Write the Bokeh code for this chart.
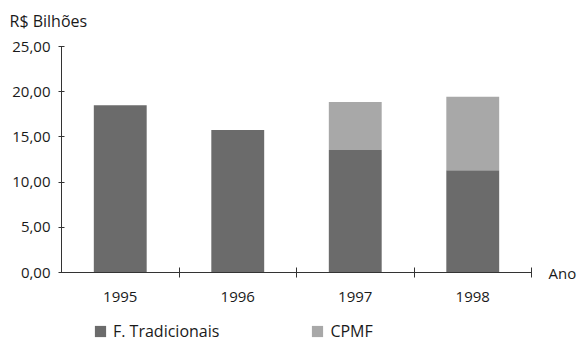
from bokeh.plotting import figure
from bokeh.models import (ColumnDataSource, FixedTicker, Label, Legend, LegendItem,
                          LinearAxis, Range1d)
from bokeh.embed import file_html
from bokeh.resources import INLINE

# Arrecadação por ano (R$ bilhões)
anos = ["1995", "1996", "1997", "1998"]
tradicionais = [18.5, 15.75, 13.55, 11.3]
cpmf = [0.0, 0.0, 5.3, 8.15]
y_ticks = [0, 5, 10, 15, 20, 25]
y_tick_labels = ["0,00", "5,00", "10,00", "15,00", "20,00", "25,00"]

FONT = "Open Sans"
TXT = "#1a1a1a"
ESCURO = "#6b6b6b"
CLARO = "#a8a8a8"
LINHA = "#333333"

W, H = 577, 344
# margens (px) em volta da área dos eixos
ML, MR, MT, MB = 61, 46, 46, 72
n = len(anos)
y_max = 25
px_x = (W - ML - MR) / n
px_y = (H - MT - MB) / y_max

x_pos = [i + 0.5 for i in range(n)]
topo = [t + c for t, c in zip(tradicionais, cpmf)]
src = ColumnDataSource(dict(x=x_pos, trad=tradicionais, cpmf=cpmf, topo=topo))

p = figure(width=W, height=H, output_backend="svg", toolbar_location=None,
           x_range=Range1d(-ML / px_x, n + MR / px_x),
           y_range=Range1d(-MB / px_y, y_max + MT / px_y),
           x_axis_location=None, y_axis_location=None,
           min_border=0, min_border_left=0, min_border_right=0,
           min_border_top=0, min_border_bottom=0)
p.outline_line_color = None
p.grid.visible = False
p.background_fill_color = "white"

r1 = p.vbar(x="x", width=0.45, bottom=0, top="trad", source=src,
            fill_color=ESCURO, line_color=None)
r2 = p.vbar(x="x", width=0.45, bottom="trad", top="topo", source=src,
            fill_color=CLARO, line_color=None)

# eixo y
ya = LinearAxis(fixed_location=0, bounds=(0, y_max),
                ticker=FixedTicker(ticks=y_ticks))
ya.major_label_overrides = {t: l for t, l in zip(y_ticks, y_tick_labels)}
ya.major_tick_in = 3
ya.major_tick_out = 3
ya.minor_tick_line_color = None
ya.major_label_standoff = 8
ya.major_label_text_font = FONT
ya.major_label_text_font_size = "15px"
ya.major_label_text_color = TXT
ya.axis_line_color = LINHA
ya.major_tick_line_color = LINHA
p.add_layout(ya, "left")

# eixo x: rótulos no centro das categorias, marcas nas divisões
xa = LinearAxis(fixed_location=0, bounds=(0, n),
                ticker=FixedTicker(ticks=x_pos, minor_ticks=list(range(1, n + 1))))
xa.major_label_overrides = {x: a for x, a in zip(x_pos, anos)}
xa.major_tick_in = 0
xa.major_tick_out = 0
xa.minor_tick_in = 5
xa.minor_tick_out = 5
xa.minor_tick_line_color = LINHA
xa.major_label_standoff = 14
xa.major_label_text_font = FONT
xa.major_label_text_font_size = "15px"
xa.major_label_text_color = TXT
xa.axis_line_color = LINHA
p.add_layout(xa, "below")

p.add_layout(Label(x=0, y=y_max, text="R$ Bilhões", x_offset=-52, y_offset=26,
                   text_baseline="middle", text_font=FONT, text_font_size="16px",
                   text_color=TXT))
p.add_layout(Label(x=n, y=0, text="Ano", x_offset=17, text_baseline="middle",
                   text_font=FONT, text_font_size="15px", text_color=TXT))

legend = Legend(items=[LegendItem(label="F. Tradicionais", renderers=[r1]),
                       LegendItem(label="CPMF", renderers=[r2])],
                orientation="horizontal", location=(93, 2),
                glyph_width=14, glyph_height=14, label_standoff=6, spacing=91,
                padding=0, margin=0, border_line_color=None, background_fill_alpha=0,
                label_text_font=FONT, label_text_font_size="16px", label_text_color=TXT)
p.add_layout(legend)

open("out.html", "w").write(file_html(p, INLINE))
